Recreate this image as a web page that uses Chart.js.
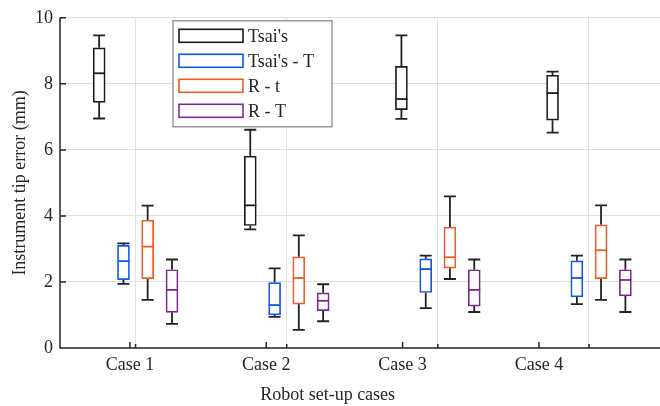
<!DOCTYPE html>
<html>
<head>
<meta charset="utf-8">
<script src="https://cdn.jsdelivr.net/npm/chart.js@4/dist/chart.umd.min.js"></script>
<style>
  html, body { margin: 0; padding: 0; background: #fff; }
  #wrap { width: 660px; height: 406px; }
</style>
</head>
<body>
<div id="wrap"><canvas id="box_chart"></canvas></div>
<script>
// each entry: [min, q1, median, q3, max] per case
const cases = ["Case 1", "Case 2", "Case 3", "Case 4"];
const seriesNames = ["Tsai's", "Tsai's - T", "R - t", "R - T"];
const seriesColors = ["#1a1a1a", "#0f55f0", "#f25a24", "#7b2a8c"];

const tsai = [
  [6.95, 7.44, 8.32, 9.09, 9.47],
  [3.59, 3.71, 4.32, 5.81, 6.61],
  [6.94, 7.22, 7.54, 8.53, 9.47],
  [6.52, 6.90, 7.72, 8.26, 8.37],
];
const tsaiT = [
  [1.94, 2.07, 2.63, 3.11, 3.17],
  [0.94, 1.00, 1.30, 1.98, 2.41],
  [1.21, 1.68, 2.39, 2.70, 2.80],
  [1.33, 1.55, 2.12, 2.64, 2.80],
];
const rt = [
  [1.46, 2.10, 3.07, 3.87, 4.31],
  [0.55, 1.33, 2.12, 2.76, 3.41],
  [2.09, 2.42, 2.75, 3.66, 4.59],
  [1.46, 2.10, 2.96, 3.73, 4.32],
];
const rT = [
  [0.73, 1.08, 1.76, 2.37, 2.68],
  [0.81, 1.13, 1.43, 1.67, 1.93],
  [1.09, 1.27, 1.76, 2.37, 2.68],
  [1.09, 1.58, 2.06, 2.37, 2.68],
];
const yTicks = [0, 2, 4, 6, 8, 10];

const allSeries = [tsai, tsaiT, rt, rT];
const groupOffsets = [-0.241, -0.08, 0.08, 0.241];

const FONT = "'Liberation Serif', 'Times New Roman', serif";
const TEXT = "#262626";

const datasets = allSeries.map((s, i) => ({
  label: seriesNames[i],
  data: s.map((st, c) => ({ x: c + 1 + groupOffsets[i], y: [st[1], st[3]], stats: st })),
  backgroundColor: "#ffffff",
  borderColor: seriesColors[i],
  borderWidth: 1.7,
  borderSkipped: false,
  barThickness: 12,
  grouped: false,
  xAxisID: "x",
}));

const boxPlugin = {
  id: "boxParts",
  beforeDatasetsDraw(chart) {
    const ctx = chart.ctx;
    const ys = chart.scales.y;
    const xg = chart.scales.x;
    ctx.save();
    ctx.strokeStyle = "#222222";
    ctx.lineWidth = 1.8;
    chart.data.datasets.forEach((ds) => {
      ds.data.forEach((p) => {
        const cx = xg.getPixelForValue(p.x);
        const st = p.stats;
        const half = 6;
        ctx.beginPath();
        ctx.moveTo(cx, ys.getPixelForValue(st[3]));
        ctx.lineTo(cx, ys.getPixelForValue(st[4]));
        ctx.moveTo(cx - half, ys.getPixelForValue(st[4]));
        ctx.lineTo(cx + half, ys.getPixelForValue(st[4]));
        ctx.moveTo(cx, ys.getPixelForValue(st[1]));
        ctx.lineTo(cx, ys.getPixelForValue(st[0]));
        ctx.moveTo(cx - half, ys.getPixelForValue(st[0]));
        ctx.lineTo(cx + half, ys.getPixelForValue(st[0]));
        ctx.stroke();
      });
    });
    ctx.restore();
  },
  afterDatasetsDraw(chart) {
    const ctx = chart.ctx;
    const ys = chart.scales.y;
    const xg = chart.scales.x;
    const xc = chart.scales.xc;
    const area = chart.chartArea;
    ctx.save();
    // medians
    chart.data.datasets.forEach((ds) => {
      ctx.strokeStyle = ds.borderColor;
      ctx.lineWidth = 1.8;
      ds.data.forEach((p) => {
        const cx = xg.getPixelForValue(p.x);
        const my = ys.getPixelForValue(p.stats[2]);
        ctx.beginPath();
        ctx.moveTo(cx - 6, my);
        ctx.lineTo(cx + 6, my);
        ctx.stroke();
      });
    });
    // axis lines and inward ticks
    ctx.strokeStyle = TEXT;
    ctx.lineWidth = 1.5;
    ctx.beginPath();
    ctx.moveTo(area.left, area.top);
    ctx.lineTo(area.left, area.bottom);
    ctx.lineTo(area.right, area.bottom);
    ys.ticks.forEach((t) => {
      const py = ys.getPixelForValue(t.value);
      ctx.moveTo(area.left, py);
      ctx.lineTo(area.left + 6, py);
    });
    xc.ticks.forEach((t) => {
      const px = xc.getPixelForValue(t.value);
      ctx.moveTo(px, area.bottom);
      ctx.lineTo(px, area.bottom - 6);
    });
    xg.ticks.forEach((t) => {
      const px = xg.getPixelForValue(t.value);
      ctx.moveTo(px, area.bottom);
      ctx.lineTo(px, area.bottom - 4);
    });
    ctx.stroke();
    // x title
    ctx.fillStyle = TEXT;
    ctx.font = "18px " + FONT;
    ctx.textAlign = "center";
    ctx.textBaseline = "middle";
    ctx.fillText("Robot set-up cases", xc.getPixelForValue(2.45), 395);
    // legend
    const lx = area.left + 113, ly = area.top + 3;
    ctx.fillStyle = "#ffffff";
    ctx.fillRect(lx, ly, 159, 106);
    ctx.strokeStyle = "#7f7f7f";
    ctx.lineWidth = 1.2;
    ctx.strokeRect(lx, ly, 159, 106);
    ctx.textAlign = "left";
    chart.data.datasets.forEach((ds, i) => {
      const cy = ly + 15 + i * 25;
      ctx.strokeStyle = ds.borderColor;
      ctx.lineWidth = 1.6;
      ctx.strokeRect(lx + 6, cy - 6.5, 64, 13);
      ctx.fillStyle = TEXT;
      ctx.fillText(ds.label, lx + 75, cy + 1);
    });
    ctx.restore();
  },
};

const chart = new Chart(document.getElementById("box_chart"), {
  type: "bar",
  data: { datasets },
  options: {
    responsive: true,
    maintainAspectRatio: false,
    animation: false,
    devicePixelRatio: 1,
    layout: { padding: { top: 16, left: 0, right: 0, bottom: 0 } },
    plugins: { legend: { display: false }, tooltip: { enabled: false } },
    scales: {
      x: {
        type: "linear",
        position: "bottom",
        offset: false,
        min: 0.5,
        max: 4.47,
        afterBuildTicks: (s) => { s.ticks = [1, 2, 3, 4].map((v) => ({ value: v })); },
        afterFit: (s) => { s.height = 0; },
        ticks: { display: false },
        border: { display: false },
        grid: { color: "#e0e0e0", lineWidth: 1, drawTicks: false, offset: false },
      },
      xc: {
        type: "linear",
        position: "bottom",
        offset: false,
        min: 0.487,
        max: 4.888,
        afterBuildTicks: (s) => { s.ticks = cases.map((c, i) => ({ value: i + 1 })); },
        afterFit: (s) => { s.height = 58; },
        ticks: {
          callback: (v) => cases[v - 1],
          font: { family: FONT, size: 18 },
          color: TEXT,
          padding: 6,
          maxRotation: 0,
        },
        border: { display: false },
        grid: { display: false, drawTicks: false, offset: false },
      },
      y: {
        min: 0,
        max: 10,
        afterBuildTicks: (s) => { s.ticks = yTicks.map((v) => ({ value: v })); },
        afterFit: (s) => { s.width = 60; },
        ticks: { font: { family: FONT, size: 18 }, color: TEXT, padding: 7 },
        border: { display: false },
        grid: { color: "#e0e0e0", lineWidth: 1, drawTicks: false },
        title: {
          display: true,
          text: "Instrument tip error (mm)",
          font: { family: FONT, size: 18 },
          color: TEXT,
          padding: { top: 9, bottom: 0 },
        },
      },
    },
  },
  plugins: [boxPlugin],
});
</script>
</body>
</html>
